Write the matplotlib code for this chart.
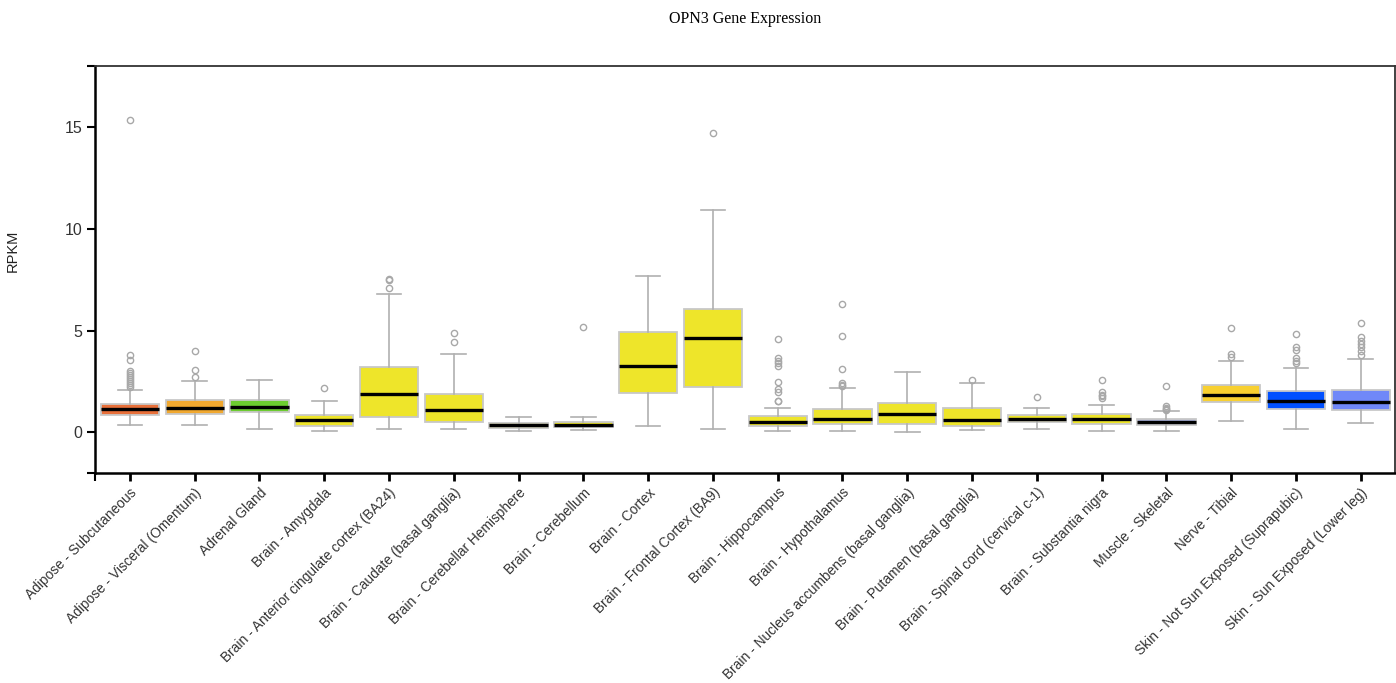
import numpy as np
import matplotlib.pyplot as plt

# Tissue categories and their box colours
tissues = [
    'Adipose - Subcutaneous', 'Adipose - Visceral (Omentum)', 'Adrenal Gland',
    'Brain - Amygdala', 'Brain - Anterior cingulate cortex (BA24)',
    'Brain - Caudate (basal ganglia)', 'Brain - Cerebellar Hemisphere',
    'Brain - Cerebellum', 'Brain - Cortex', 'Brain - Frontal Cortex (BA9)',
    'Brain - Hippocampus', 'Brain - Hypothalamus',
    'Brain - Nucleus accumbens (basal ganglia)', 'Brain - Putamen (basal ganglia)',
    'Brain - Spinal cord (cervical c-1)', 'Brain - Substantia nigra',
    'Muscle - Skeletal', 'Nerve - Tibial', 'Skin - Not Sun Exposed (Suprapubic)',
    'Skin - Sun Exposed (Lower leg)',
]
colors = ['#e8703a', '#f0a830', '#6ccc30'] + ['#eee52a'] * 13 + \
         ['#aab2da', '#f8d030', '#0050ff', '#7088f8']

# Box statistics (RPKM)
whislo = [0.34, 0.37, 0.16, 0.08, 0.16, 0.18, 0.05, 0.10, 0.31, 0.15,
          0.06, 0.08, 0.03, 0.10, 0.15, 0.08, 0.08, 0.57, 0.16, 0.47]
q1 = [0.85, 0.91, 0.98, 0.33, 0.75, 0.49, 0.23, 0.26, 1.91, 2.23,
      0.31, 0.42, 0.42, 0.31, 0.52, 0.39, 0.36, 1.47, 1.14, 1.09]
med = [1.14, 1.19, 1.24, 0.60, 1.87, 1.09, 0.34, 0.37, 3.26, 4.63,
       0.52, 0.65, 0.90, 0.60, 0.65, 0.65, 0.49, 1.84, 1.52, 1.48]
q3 = [1.37, 1.60, 1.60, 0.85, 3.21, 1.87, 0.47, 0.49, 4.94, 6.05,
      0.81, 1.14, 1.45, 1.20, 0.83, 0.90, 0.65, 2.32, 2.04, 2.10]
whishi = [2.10, 2.50, 2.58, 1.55, 6.80, 3.85, 0.75, 0.75, 7.68, 10.91,
          1.20, 2.19, 2.98, 2.40, 1.20, 1.32, 1.04, 3.51, 3.16, 3.62]
outliers = [
    [15.35, 3.78, 3.55, 3.0, 2.9, 2.8, 2.7, 2.6, 2.5, 2.4, 2.3, 2.22],
    [3.99, 3.05, 2.74],
    [],
    [2.19],
    [7.55, 7.50, 7.11],
    [4.89, 4.45],
    [],
    [5.17],
    [],
    [14.71],
    [4.58, 3.65, 3.52, 3.38, 3.26, 2.48, 2.15, 1.96, 1.55, 1.52],
    [6.31, 4.71, 3.11, 2.41, 2.32, 2.28],
    [],
    [2.59],
    [1.74],
    [2.56, 1.96, 1.83, 1.76, 1.69],
    [2.27, 1.27, 1.20, 1.14, 1.08],
    [5.14, 3.85, 3.69],
    [4.84, 4.19, 4.03, 3.64, 3.51, 3.38],
    [5.38, 4.70, 4.47, 4.34, 4.19, 3.99, 3.78],
]

stats = []
for i in range(len(tissues)):
    stats.append({'whislo': whislo[i], 'q1': q1[i], 'med': med[i],
                  'q3': q3[i], 'whishi': whishi[i], 'fliers': outliers[i]})

plt.rcParams['font.family'] = ['Liberation Sans', 'DejaVu Sans']

fig = plt.figure(figsize=(13.96, 6.83), dpi=100)
ax = fig.add_axes([0.068, 0.3075, 0.9313, 0.5959])

pos = np.arange(len(tissues))
bp = ax.bxp(stats, positions=pos, widths=0.9, patch_artist=True,
            capwidths=0.38, manage_ticks=False,
            boxprops=dict(edgecolor='#c8c8c8', linewidth=1.3),
            whiskerprops=dict(color='#b0b0b0', linewidth=1.2),
            capprops=dict(color='#b0b0b0', linewidth=1.2),
            medianprops=dict(color='black', linewidth=2.4),
            flierprops=dict(marker='o', markersize=4.5, markerfacecolor='none',
                            markeredgecolor='#a8a8a8', markeredgewidth=1))
for patch, c in zip(bp['boxes'], colors):
    patch.set_facecolor(c)

ax.set_xlim(-0.54, 19.53)
ax.set_ylim(-2, 18)

ax.set_yticks([-2, 0, 5, 10, 15, 18])
ax.set_yticklabels(['', '0', '5', '10', '15', ''])
ax.set_xticks(pos)
ax.set_xticklabels(tissues, rotation=45, ha='right', rotation_mode='anchor')
ax.set_xticks([-0.54], minor=True)
ax.tick_params(axis='x', which='minor', direction='out', length=6, width=1.5)
ax.tick_params(axis='x', which='major', direction='out', length=6, width=2,
               labelsize=9.9, labelcolor='#333333', pad=3)
ax.tick_params(axis='y', direction='out', length=6, width=1.5,
               labelsize=11.5, labelcolor='#333333', pad=3)

for side in ['left', 'bottom']:
    ax.spines[side].set_linewidth(1.8)
for side in ['top', 'right']:
    ax.spines[side].set_linewidth(1.3)
    ax.spines[side].set_color('#333333')

ax.set_ylabel('RPKM', fontsize=10.5, color='#222222')
ax.yaxis.set_label_coords(-0.058, 0.545)
fig.text(0.534, 0.972, 'OPN3 Gene Expression', ha='center', va='center',
         fontsize=11.5, family='Liberation Serif')

fig.savefig('out.png', dpi=100)
